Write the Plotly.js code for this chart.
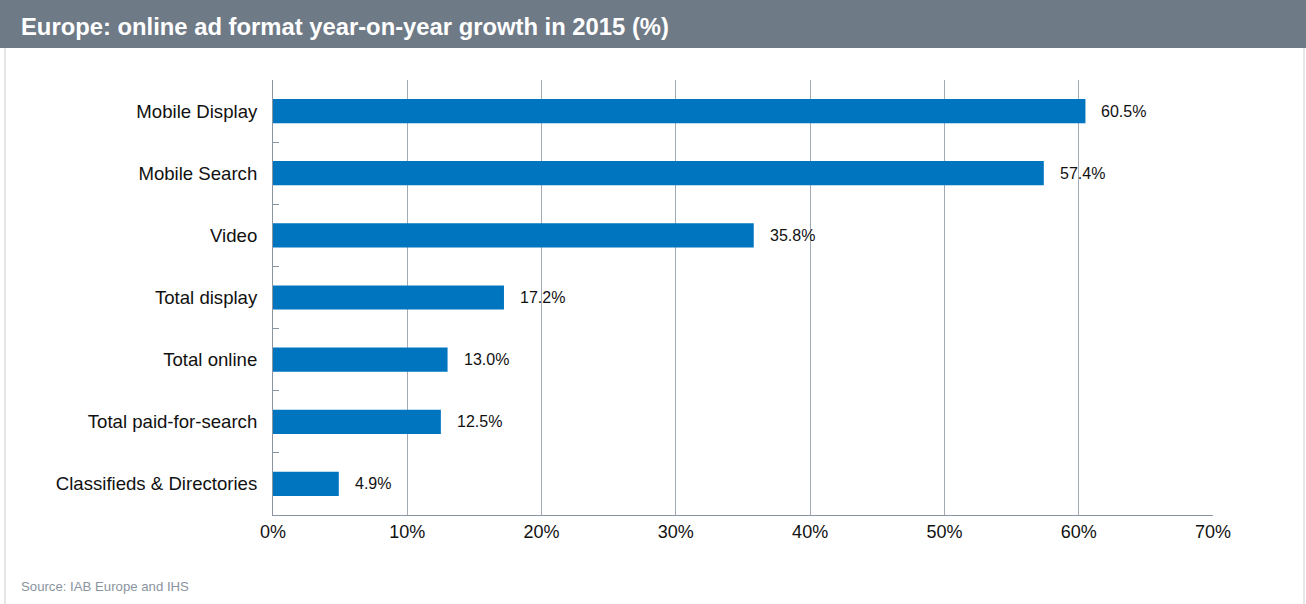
<!DOCTYPE html>
<html>
<head>
<meta charset="utf-8">
<script src="https://cdn.plot.ly/plotly-3.0.1.min.js"></script>
<style>
  html, body { margin: 0; padding: 0; background: #fff; }
  #chart { width: 1306px; height: 604px; }
</style>
</head>
<body>
<div id="chart"></div>
<script>
// growth by ad format, top to bottom as in the source
var formats = ['Mobile Display', 'Mobile Search', 'Video', 'Total display',
  'Total online', 'Total paid-for-search', 'Classifieds & Directories'];
var growth = [60.5, 57.4, 35.8, 17.2, 13.0, 12.5, 4.9];
var xTicks = [0, 10, 20, 30, 40, 50, 60, 70];

var font = 'Arial, "Liberation Sans", sans-serif';

// value labels next to each bar
var labels = formats.map(function (f, i) {
  return {
    x: growth[i], y: f, xref: 'x', yref: 'y',
    text: growth[i].toFixed(1) + '%',
    showarrow: false, xanchor: 'left', xshift: 14,
    font: { family: font, size: 16, color: '#111' }
  };
});

labels.push({
  xref: 'paper', yref: 'paper', x: -254 / 940, y: -71 / 435,
  xanchor: 'left', yanchor: 'middle', showarrow: false,
  text: 'Source: IAB Europe and IHS',
  font: { family: font, size: 13.2, color: '#8a94a0' }
});

var layout = {
  width: 1306, height: 604,
  margin: { l: 273, r: 93, t: 80, b: 89 },
  paper_bgcolor: '#fff', plot_bgcolor: '#fff',
  showlegend: false,
  bargap: 0.61,
  title: {
    text: '<b>Europe: online ad format year-on-year growth in 2015 (%)</b>',
    x: 21 / 1306, xanchor: 'left', xref: 'container',
    y: 1 - 27 / 604, yanchor: 'middle', yref: 'container',
    font: { family: font, size: 23.8, color: '#fff' }
  },
  xaxis: {
    range: [0, 70], tickvals: xTicks,
    ticktext: xTicks.map(function (v) { return v + '%'; }),
    showgrid: true, gridcolor: '#a3abb6', gridwidth: 1,
    zeroline: false, showline: true, linecolor: '#8b95a1', linewidth: 1,
    ticks: '', tickfont: { family: font, size: 18, color: '#111' },
    fixedrange: true
  },
  yaxis: {
    type: 'category', autorange: 'reversed',
    showgrid: false, zeroline: false,
    showline: true, linecolor: '#8b95a1', linewidth: 1,
    ticks: 'inside', tickson: 'boundaries', ticklen: 6, tickcolor: '#8b95a1',
    ticklabelstandoff: 11,
    tickfont: { family: font, size: 18.6, color: '#111' },
    fixedrange: true
  },
  annotations: labels,
  shapes: [
    // header band
    { type: 'rect', xref: 'paper', yref: 'paper', layer: 'below',
      x0: -273 / 940, x1: 1033 / 940, y0: 467 / 435, y1: 520 / 435,
      fillcolor: '#6f7a87', line: { width: 0 } },
    // frame sides
    { type: 'line', xref: 'paper', yref: 'paper',
      x0: -268 / 940, x1: -268 / 940, y0: -95 / 435, y1: 467 / 435,
      line: { color: '#c9cdd2', width: 1 } },
    { type: 'line', xref: 'paper', yref: 'paper',
      x0: 1031 / 940, x1: 1031 / 940, y0: -95 / 435, y1: 467 / 435,
      line: { color: '#c9cdd2', width: 1 } }
  ]
};

Plotly.newPlot('chart', [{
  type: 'bar', orientation: 'h',
  x: growth, y: formats,
  marker: { color: '#0075bf', line: { width: 0 } },
  hoverinfo: 'x+y'
}], layout, { displayModeBar: false, staticPlot: true });
</script>
</body>
</html>
